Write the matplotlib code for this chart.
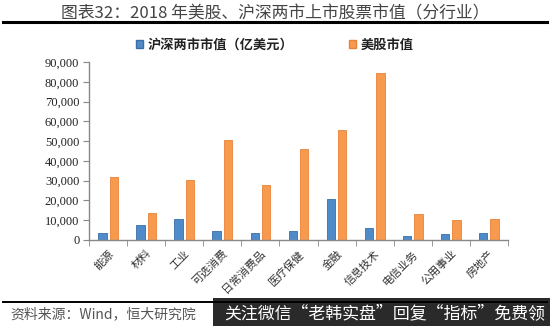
import matplotlib
matplotlib.use("Agg")
import matplotlib.pyplot as plt
from matplotlib.patches import Patch, Rectangle
from matplotlib.lines import Line2D
import numpy as np

plt.rcParams['font.family'] = ['Noto Sans CJK SC', 'DejaVu Sans']

title = "图表32：2018 年美股、沪深两市上市股票市值（分行业）"
categories = ["能源", "材料", "工业", "可选消费", "日常消费品", "医疗保健",
              "金融", "信息技术", "电信业务", "公用事业", "房地产"]
series_names = ["沪深两市市值（亿美元）", "美股市值"]
cn_values = [3700, 7600, 10600, 4700, 3500, 4700, 20600, 6100, 1900, 3200, 3300]
us_values = [31700, 13600, 30300, 50600, 27800, 46000, 55800, 84600, 13300, 10100, 10500]
yticks = [0, 10000, 20000, 30000, 40000, 50000, 60000, 70000, 80000, 90000]
source = "资料来源：Wind，恒大研究院"
banner = "关注微信“老韩实盘”回复“指标”免费领"

W, H = 550, 326
fig = plt.figure(figsize=(W / 100, H / 100), dpi=100)
fig.patch.set_facecolor("white")

def fx(px):
    return px / W

def fy(py):
    return 1 - py / H

ax = fig.add_axes([fx(89), fy(240), fx(508) - fx(89), fy(62) - fy(240)])
x = np.arange(len(categories))
bw = 0.22
blue = "#4F8BC9"
orange = "#F79A4E"
ax.bar(x - 0.15, cn_values, bw, color=blue, edgecolor="#3A6EA5", linewidth=0.6)
ax.bar(x + 0.15, us_values, bw, color=orange, edgecolor="#E8823A", linewidth=0.6)

ax.set_xlim(-0.5, len(categories) - 0.5)
ax.set_ylim(0, 90000)
ax.set_yticks(yticks)
ax.set_yticklabels([f"{v:,}" for v in yticks], fontfamily="Liberation Serif",
                   fontsize=9, color="#222222")
ax.set_xticks(x)
ax.set_xticklabels(categories, rotation=45, ha="right", va="top",
                   rotation_mode="anchor", fontsize=8, color="#333333")
ax.tick_params(axis="x", which="major", length=0, pad=6)
ax.set_xticks(np.arange(-0.5, len(categories), 1.0), minor=True)
ax.tick_params(axis="x", which="minor", length=4, color="#888888", direction="out")
ax.tick_params(axis="y", length=4, color="#888888", direction="out", pad=3)
for s in ["top", "right"]:
    ax.spines[s].set_visible(False)
for s in ["left", "bottom"]:
    ax.spines[s].set_color("#888888")
    ax.spines[s].set_linewidth(1.0)

# Title and rule
fig.text(0.5, fy(14), title, ha="center", va="center", fontsize=12.1, color="#444444")
fig.add_artist(Line2D([fx(3), fx(547)], [fy(22), fy(22)], color="black", linewidth=2.2))

# Legend
handles = [Patch(facecolor=blue, edgecolor="#3A6EA5"), Patch(facecolor=orange, edgecolor="#E8823A")]
leg = fig.legend(handles, series_names, loc="center", bbox_to_anchor=(0.5, fy(45)), ncol=2,
                 frameon=False, handlelength=0.55, handleheight=0.55, handletextpad=0.35,
                 columnspacing=4.2, prop={"size": 9.5, "weight": "bold"})
for t in leg.get_texts():
    t.set_color("#222222")

# Bottom rule and source
fig.add_artist(Line2D([fx(3), fx(547)], [fy(302), fy(302)], color="black", linewidth=1.4))
fig.text(fx(10), fy(314), source, ha="left", va="center", fontsize=10, color="#555555")

# Banner overlay
fig.add_artist(Rectangle((fx(213), 0), fx(550) - fx(213), fy(298), transform=fig.transFigure,
                         facecolor="#2a2a2a", edgecolor="none"))
fig.text(fx(385), fy(313), banner, ha="center", va="center", fontsize=12.2, color="white")

fig.savefig("out.png", dpi=100)
